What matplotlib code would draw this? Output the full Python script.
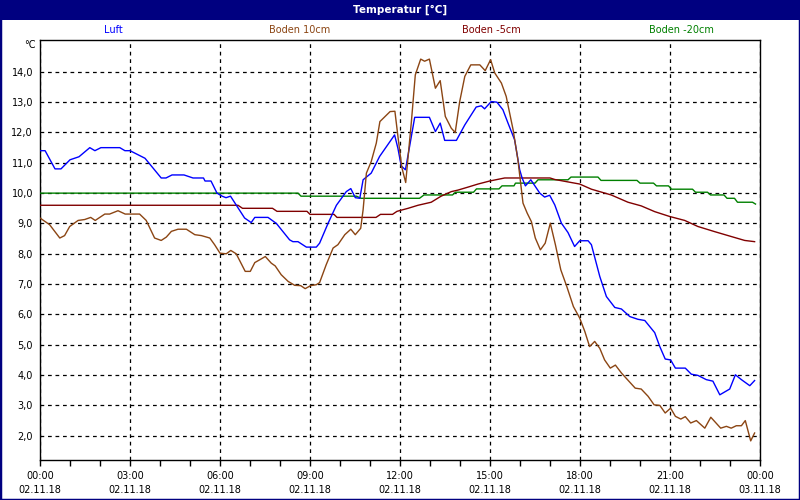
import matplotlib
matplotlib.use("Agg")
import matplotlib.pyplot as plt
from matplotlib.patches import Rectangle
from matplotlib.ticker import MultipleLocator

# ---------------- data ----------------
series_names = ["Luft", "Boden 10cm", "Boden -5cm", "Boden -20cm"]
series_colors = ["#0000FF", "#8B4513", "#800000", "#008000"]

xtick_hours = [0, 3, 6, 9, 12, 15, 18, 21, 24]
xtick_labels = ["00:00\n02.11.18", "03:00\n02.11.18", "06:00\n02.11.18",
                "09:00\n02.11.18", "12:00\n02.11.18", "15:00\n02.11.18",
                "18:00\n02.11.18", "21:00\n02.11.18", "00:00\n03.11.18"]
ytick_values = [2, 3, 4, 5, 6, 7, 8, 9, 10, 11, 12, 13, 14]
ytick_labels = ["2,0", "3,0", "4,0", "5,0", "6,0", "7,0", "8,0", "9,0",
                "10,0", "11,0", "12,0", "13,0", "14,0"]

luft_t = [0, 0.17, 0.5, 0.7, 1.0, 1.3, 1.66, 1.83, 2.03, 2.66,
          2.83, 3.0, 3.5, 4.04, 4.2, 4.4, 4.8, 5.1, 5.45, 5.5,
          5.7, 5.9, 6.07, 6.2, 6.35, 6.82, 7.04, 7.16, 7.6, 7.88,
          8.32, 8.43, 8.6, 8.88, 9.21, 9.32, 9.6, 9.88, 10.21, 10.36,
          10.51, 10.66, 10.77, 11.04, 11.32, 11.82, 11.93, 12.04, 12.18, 12.32,
          12.49, 12.98, 13.18, 13.34, 13.49, 13.88, 14.16, 14.54, 14.71, 14.82,
          15.04, 15.23, 15.43, 15.6, 15.82, 15.99, 16.07, 16.18, 16.36, 16.66,
          16.82, 16.99, 17.16, 17.38, 17.6, 17.82, 17.99, 18.27, 18.38, 18.66,
          18.88, 19.16, 19.38, 19.66, 19.93, 20.16, 20.49, 20.66, 20.84, 21.02,
          21.18, 21.51, 21.71, 21.93, 22.21, 22.43, 22.66, 22.99, 23.18, 23.38,
          23.66, 23.82]
luft_v = [11.4, 11.4, 10.8, 10.8, 11.1, 11.2, 11.5, 11.4, 11.5, 11.5,
          11.4, 11.4, 11.15, 10.5, 10.5, 10.6, 10.6, 10.5, 10.5, 10.4,
          10.4, 10.0, 9.9, 9.85, 9.9, 9.18, 9.03, 9.2, 9.2, 9.0,
          8.46, 8.4, 8.4, 8.22, 8.22, 8.35, 9.0, 9.6, 10.05, 10.15,
          9.85, 9.83, 10.44, 10.66, 11.21, 11.92, 11.48, 10.9, 10.77, 11.54,
          12.5, 12.5, 12.03, 12.31, 11.74, 11.74, 12.25, 12.84, 12.88, 12.78,
          13.02, 13.0, 12.75, 12.31, 11.76, 10.77, 10.5, 10.24, 10.44, 10.0,
          9.87, 9.93, 9.61, 9.01, 8.7, 8.24, 8.43, 8.43, 8.3, 7.25,
          6.59, 6.23, 6.18, 5.93, 5.84, 5.8, 5.4, 4.94, 4.53, 4.5,
          4.23, 4.23, 4.03, 3.99, 3.85, 3.8, 3.35, 3.54, 4.01, 3.85,
          3.65, 3.82]

boden10_t = [0, 0.32, 0.66, 0.82, 0.99, 1.27, 1.49, 1.69, 1.84, 2.16,
             2.32, 2.6, 2.84, 3.32, 3.54, 3.82, 4.04, 4.21, 4.38, 4.6,
             4.88, 5.16, 5.38, 5.66, 5.82, 6.0, 6.21, 6.36, 6.54, 6.84,
             7.01, 7.16, 7.32, 7.51, 7.71, 7.84, 8.04, 8.27, 8.49, 8.69,
             8.84, 9.02, 9.21, 9.32, 9.54, 9.77, 9.93, 10.16, 10.36, 10.51,
             10.69, 10.77, 10.88, 11.04, 11.21, 11.33, 11.67, 11.83, 11.94, 12.06,
             12.19, 12.38, 12.51, 12.69, 12.82, 12.98, 13.18, 13.34, 13.51, 13.71,
             13.84, 13.99, 14.16, 14.36, 14.66, 14.84, 15.02, 15.16, 15.38, 15.54,
             15.77, 15.93, 16.1, 16.24, 16.38, 16.51, 16.68, 16.84, 17.01, 17.18,
             17.36, 17.56, 17.78, 17.99, 18.16, 18.32, 18.49, 18.66, 18.82, 19.01,
             19.18, 19.38, 19.6, 19.84, 20.04, 20.27, 20.47, 20.66, 20.84, 21.02,
             21.18, 21.36, 21.51, 21.69, 21.88, 22.16, 22.36, 22.69, 22.88, 23.04,
             23.21, 23.38, 23.51, 23.69, 23.82]
boden10_v = [9.18, 8.96, 8.52, 8.6, 8.9, 9.1, 9.13, 9.2, 9.1, 9.31,
             9.31, 9.42, 9.31, 9.31, 9.1, 8.52, 8.44, 8.55, 8.74, 8.81,
             8.81, 8.63, 8.6, 8.52, 8.3, 8.02, 8.0, 8.11, 8.0, 7.42,
             7.42, 7.71, 7.8, 7.91, 7.69, 7.6, 7.31, 7.09, 6.96, 6.95,
             6.85, 6.95, 6.98, 7.05, 7.64, 8.19, 8.3, 8.63, 8.81, 8.63,
             8.84, 9.45, 10.66, 11.04, 11.65, 12.36, 12.69, 12.7, 11.8, 10.85,
             10.35, 12.36, 13.9, 14.42, 14.35, 14.42, 13.46, 13.71, 12.53, 12.14,
             12.0, 13.02, 13.85, 14.23, 14.23, 14.04, 14.4, 13.96, 13.63, 13.19,
             12.09, 11.1, 9.67, 9.34, 9.06, 8.52, 8.13, 8.35, 9.01, 8.3,
             7.47, 6.92, 6.26, 5.88, 5.44, 4.94, 5.11, 4.88, 4.5, 4.23,
             4.33, 4.07, 3.83, 3.57, 3.54, 3.3, 3.02, 3.0, 2.75, 2.91,
             2.64, 2.55, 2.63, 2.42, 2.5, 2.25, 2.61, 2.25, 2.31, 2.25,
             2.33, 2.33, 2.5, 1.83, 2.09]

boden5_t = [0, 6.6, 6.75, 7.75, 7.9, 8.9, 9.0, 9.8, 9.9, 11.2,
            11.35, 11.75, 11.9, 12.27, 12.6, 13.04, 13.37, 13.71, 13.93, 14.27,
            14.6, 14.99, 15.49, 17.0, 17.16, 17.71, 17.99, 18.38, 19.04, 19.6,
            20.04, 20.49, 20.99, 21.49, 21.93, 22.49, 23.04, 23.49, 23.82]
boden5_v = [9.6, 9.6, 9.5, 9.5, 9.4, 9.4, 9.3, 9.3, 9.2, 9.2,
            9.3, 9.3, 9.4, 9.5, 9.6, 9.7, 9.9, 10.05, 10.1, 10.2,
            10.3, 10.4, 10.5, 10.5, 10.45, 10.35, 10.3, 10.13, 9.94, 9.7,
            9.58, 9.39, 9.23, 9.1, 8.9, 8.73, 8.57, 8.44, 8.4]

boden20_t = [0, 8.6, 8.7, 10.55, 10.7, 12.65, 12.8, 13.75, 13.85, 14.45,
             14.55, 15.3, 15.4, 15.8, 15.85, 16.5, 16.6, 17.6, 17.7, 18.6,
             18.7, 19.9, 20.0, 20.45, 20.55, 20.95, 21.05, 21.75, 21.85, 22.25,
             22.35, 22.8, 22.9, 23.15, 23.25, 23.75, 23.85]
boden20_v = [10.0, 10.0, 9.9, 9.9, 9.83, 9.83, 9.94, 9.94, 10.03, 10.03,
             10.14, 10.14, 10.24, 10.24, 10.33, 10.33, 10.44, 10.44, 10.53, 10.53,
             10.42, 10.42, 10.33, 10.33, 10.24, 10.24, 10.13, 10.13, 10.03, 10.03,
             9.94, 9.94, 9.83, 9.83, 9.7, 9.7, 9.64]

# ---------------- figure ----------------
W, H = 800, 500
fig = plt.figure(figsize=(W / 100, H / 100), dpi=100)
fig.patch.set_facecolor("white")
navy = "#000080"
font = "DejaVu Sans"
fs = 7

ax = fig.add_axes([40 / W, 40 / H, 720 / W, 420 / H])
ax.set_facecolor("white")

ax.set_xlim(0, 24)
ax.set_ylim(1.2, 15.05)

for sp in ax.spines.values():
    sp.set_color("black")
    sp.set_linewidth(1.0)

ax.set_xticks(xtick_hours)
ax.set_xticklabels(xtick_labels, fontsize=fs, family=font, linespacing=1.5)
ax.xaxis.set_minor_locator(MultipleLocator(1))
ax.tick_params(axis="x", which="both", direction="out", length=4, width=1,
               pad=4, colors="black")
ax.set_yticks(ytick_values)
ax.set_yticklabels(ytick_labels, fontsize=fs, family=font)
ax.tick_params(axis="y", length=0, pad=5)

ax.grid(True, which="major", color="black", linestyle=(0, (3, 3)), linewidth=0.9)
ax.set_axisbelow(True)

all_t = [luft_t, boden10_t, boden5_t, boden20_t]
all_v = [luft_v, boden10_v, boden5_v, boden20_v]
order = [3, 2, 0, 1]
for i in order:
    ax.plot(all_t[i], all_v[i], color=series_colors[i], linewidth=1.0, zorder=3)

# title bar
fig.patches.append(Rectangle((0, 1 - 20 / H), 1, 20 / H, transform=fig.transFigure,
                             facecolor=navy, edgecolor="none", zorder=0))
fig.text(0.5, 1 - 10 / H, "Temperatur [°C]", color="white", fontsize=7.5,
         fontweight="bold", ha="center", va="center", family=font)

# legend row
legend_x = [113, 300, 491, 681]
for name, col, lx in zip(series_names, series_colors, legend_x):
    fig.text(lx / W, 1 - 30 / H, name, color=col, fontsize=fs, ha="center",
             va="center", family=font)

fig.text(36 / W, 1 - 45 / H, "°C", fontsize=fs, ha="right", va="center", family=font)

# outer border
fig.patches.append(Rectangle((0, 0), 1, 1, transform=fig.transFigure,
                             fill=False, edgecolor=navy, linewidth=2.5, zorder=10))

fig.savefig("out.png", dpi=100, facecolor="white")
